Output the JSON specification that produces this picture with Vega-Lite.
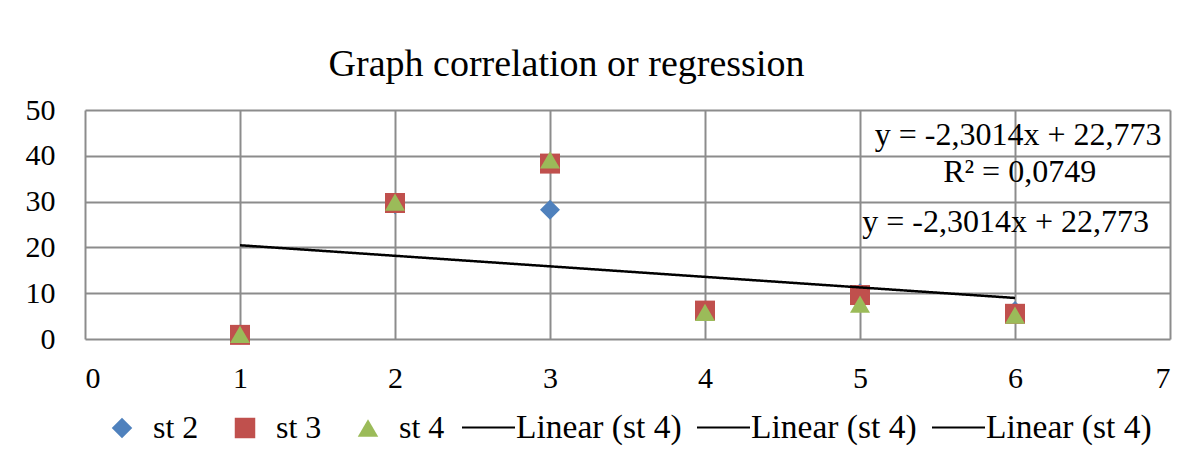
{
  "$schema": "https://vega.github.io/schema/vega-lite/v6.json",
  "width": 1085,
  "height": 229,
  "autosize": {"type": "none"},
  "padding": {"left": 85, "top": 110, "right": 25, "bottom": 131},
  "background": "white",
  "config": {
    "font": "Liberation Serif",
    "view": {"stroke": null},
    "axis": {
      "domain": false,
      "ticks": false,
      "tickSize": 0,
      "grid": true,
      "gridColor": "#8c8c8c",
      "gridWidth": 2,
      "labelFont": "Liberation Serif",
      "labelFontSize": 30,
      "labelColor": "black",
      "title": null
    },
    "legend": {
      "labelFont": "Liberation Serif",
      "labelFontSize": 32,
      "labelColor": "black",
      "labelLimit": 400
    }
  },
  "title": {
    "text": "Graph correlation or regression",
    "font": "Liberation Serif",
    "fontSize": 38,
    "fontWeight": "normal",
    "color": "black",
    "anchor": "middle",
    "frame": "group",
    "baseline": "alphabetic",
    "offset": 34,
    "dx": -61,
    "dy": 53
  },
  "datasets": {
    "points": [
      {"series": "st 2", "x": 1, "y": 1},
      {"series": "st 2", "x": 2, "y": 29.4},
      {"series": "st 2", "x": 3, "y": 28.2},
      {"series": "st 2", "x": 4, "y": 6},
      {"series": "st 2", "x": 5, "y": 10},
      {"series": "st 2", "x": 6, "y": 6.1},
      {"series": "st 3", "x": 1, "y": 0.9},
      {"series": "st 3", "x": 2, "y": 29.7},
      {"series": "st 3", "x": 3, "y": 38.3},
      {"series": "st 3", "x": 4, "y": 6.2},
      {"series": "st 3", "x": 5, "y": 9.6},
      {"series": "st 3", "x": 6, "y": 5.5},
      {"series": "st 4", "x": 1, "y": 1},
      {"series": "st 4", "x": 2, "y": 29.9},
      {"series": "st 4", "x": 3, "y": 39.1},
      {"series": "st 4", "x": 4, "y": 5.8},
      {"series": "st 4", "x": 5, "y": 7.6},
      {"series": "st 4", "x": 6, "y": 5.2}
    ],
    "trend": [
      {"trend": "Linear (st 4)", "x": 1, "y": 20.47},
      {"trend": "Linear (st 4)", "x": 6, "y": 8.96}
    ],
    "labels": [
      {"label": "y = -2,3014x + 22,773", "x": 6.02, "y": 42.4},
      {"label": "R² = 0,0749", "x": 6.03, "y": 34.3},
      {"label": "y = -2,3014x + 22,773", "x": 5.94, "y": 23.4}
    ]
  },
  "layer": [
    {
      "data": {"name": "points"},
      "mark": {"type": "point", "filled": true, "size": 400, "opacity": 1},
      "encoding": {
        "x": {
          "field": "x",
          "type": "quantitative",
          "scale": {"domain": [0, 7], "nice": false, "zero": false},
          "axis": {
            "values": [0, 1, 2, 3, 4, 5, 6, 7], "format": "d",
            "labelPadding": 48, "labelBaseline": "alphabetic", "title": null
          }
        },
        "y": {
          "field": "y",
          "type": "quantitative",
          "scale": {"domain": [0, 50], "nice": false},
          "axis": {
            "values": [0, 10, 20, 30, 40, 50], "format": "d",
            "labelPadding": 30, "title": null
          }
        },
        "color": {
          "field": "series",
          "type": "nominal",
          "scale": {"domain": ["st 2", "st 3", "st 4"], "range": ["#4f81bd", "#c0504d", "#9bbb59"]},
          "legend": {
            "title": null,
            "orient": "none",
            "direction": "horizontal",
            "legendX": 21,
            "legendY": 302,
            "symbolSize": 420,
            "symbolStrokeWidth": 0,
            "labelFontSize": 32,
            "labelOffset": 15,
            "columnPadding": 30,
            "padding": 0
          }
        },
        "shape": {
          "field": "series",
          "type": "nominal",
          "scale": {"domain": ["st 2", "st 3", "st 4"], "range": ["diamond", "square", "triangle-up"]}
        }
      }
    },
    {
      "data": {"name": "trend"},
      "mark": {"type": "line", "color": "black", "strokeWidth": 2.5},
      "encoding": {
        "x": {"field": "x", "type": "quantitative"},
        "y": {"field": "y", "type": "quantitative"},
        "strokeDash": {
          "field": "trend",
          "type": "nominal",
          "scale": {"domain": ["Linear (st 4)", "Linear (st 4) #2", "Linear (st 4) #3"], "range": [[1, 0], [1, 0], [1, 0]]},
          "legend": {
            "title": null,
            "orient": "none",
            "direction": "horizontal",
            "legendX": 376,
            "legendY": 290,
            "symbolType": "stroke",
            "symbolSize": 2809,
            "symbolStrokeWidth": 2,
            "symbolStrokeColor": "black",
            "labelFontSize": 33.5,
            "labelLimit": 400,
            "labelOffset": 0,
            "columnPadding": 11,
            "labelExpr": "'Linear (st 4)'",
            "padding": 0
          }
        }
      }
    },
    {
      "data": {"name": "labels"},
      "mark": {"type": "text", "font": "Liberation Serif", "fontSize": 32, "align": "center", "baseline": "alphabetic", "color": "black"},
      "encoding": {
        "x": {"field": "x", "type": "quantitative"},
        "y": {"field": "y", "type": "quantitative"},
        "text": {"field": "label"}
      }
    }
  ]
}
